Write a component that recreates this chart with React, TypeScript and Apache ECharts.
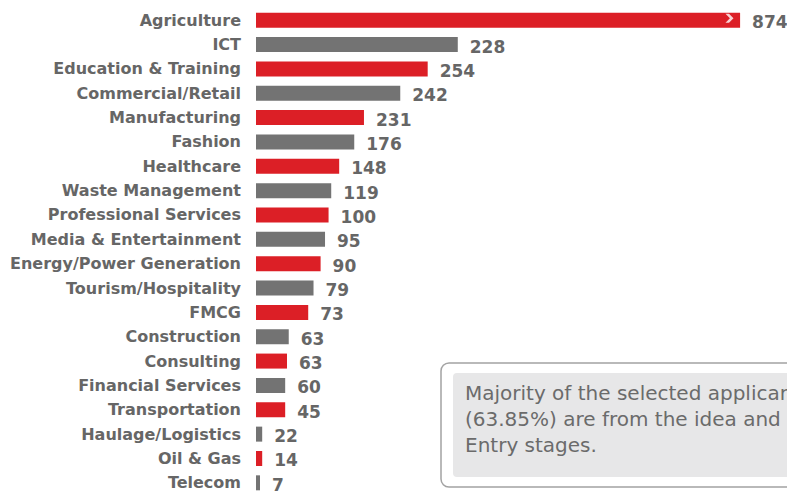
import React, { useEffect, useRef } from "react";
import * as echarts from "echarts";

const categories = [
  "Agriculture", "ICT", "Education & Training", "Commercial/Retail", "Manufacturing",
  "Fashion", "Healthcare", "Waste Management", "Professional Services", "Media & Entertainment",
  "Energy/Power Generation", "Tourism/Hospitality", "FMCG", "Construction", "Consulting",
  "Financial Services", "Transportation", "Haulage/Logistics", "Oil & Gas", "Telecom",
];
// values printed next to the bars
const values = [874, 228, 254, 242, 231, 176, 148, 119, 100, 95, 90, 79, 73, 63, 63, 60, 45, 22, 14, 7];
// drawn bar lengths as they appear in the picture (not proportional in the original; Agriculture is broken)
const barLengths = [547, 228, 194, 163, 122, 111, 94, 85, 82, 78, 73, 65, 59, 37, 35, 33, 33, 7, 7, 4.5];
const barColors = ["#dc1f26", "#737373"];
const boxLines = [
  "Majority of the selected applicants",
  "(63.85%) are from the idea and Market",
  "Entry stages.",
];

export default function App() {
  const ref = useRef<HTMLDivElement>(null);
  useEffect(() => {
    if (!ref.current) return;
    const chart = echarts.init(ref.current, null, { renderer: "svg" });
    chart.setOption({
      animation: false,
      backgroundColor: "#ffffff",
      grid: { left: 256, width: 531, top: 8, height: 487, containLabel: false },
      xAxis: {
        type: "value",
        min: 0,
        max: 600,
        show: false,
      },
      yAxis: {
        type: "category",
        data: categories,
        inverse: true,
        axisLine: { show: false },
        axisTick: { show: false },
        splitLine: { show: false },
        axisLabel: {
          margin: 15,
          color: "#666666",
          fontFamily: "DejaVu Sans",
          fontWeight: "bold",
          fontSize: 16,
        },
      },
      series: [
        {
          type: "bar",
          barWidth: 15,
          data: barLengths.map((v, i) => ({
            value: v,
            itemStyle: { color: barColors[i % 2] },
          })),
          label: {
            show: true,
            position: "right",
            distance: 12,
            offset: [0, 2],
            color: "#666666",
            fontFamily: "DejaVu Sans",
            fontWeight: "bold",
            fontSize: 17,
            formatter: (p: any) => String(values[p.dataIndex]),
          },
        },
        {
          type: "scatter",
          symbol: "path://M0,0 L4,0 L9,5 L4,10 L0,10 L5,5 Z",
          symbolSize: [8, 9],
          symbolOffset: [0, -2],
          itemStyle: { color: "#ffffff" },
          data: [[barLengths[0] - 12, categories[0]]],
          silent: true,
          z: 5,
        },
      ],
      graphic: [
        {
          type: "rect",
          shape: { x: 441, y: 363, width: 380, height: 124, r: 8 },
          style: { fill: "#ffffff", stroke: "#a3a3a3", lineWidth: 1.5 },
        },
        {
          type: "rect",
          shape: { x: 453, y: 373, width: 360, height: 104, r: 4 },
          style: { fill: "#e7e7e8" },
        },
        ...boxLines.map((t, i) => ({
          type: "text",
          x: 465,
          y: 393 + i * 26,
          style: {
            text: t,
            fill: "#6b6b6b",
            fontFamily: "DejaVu Sans",
            fontSize: 20,
            verticalAlign: "middle",
          },
        })),
      ],
    });
    return () => chart.dispose();
  }, []);
  return (
    <div
      ref={ref}
      style={{ position: "fixed", left: 0, top: 0, width: 787, height: 500, overflow: "hidden" }}
    />
  );
}
